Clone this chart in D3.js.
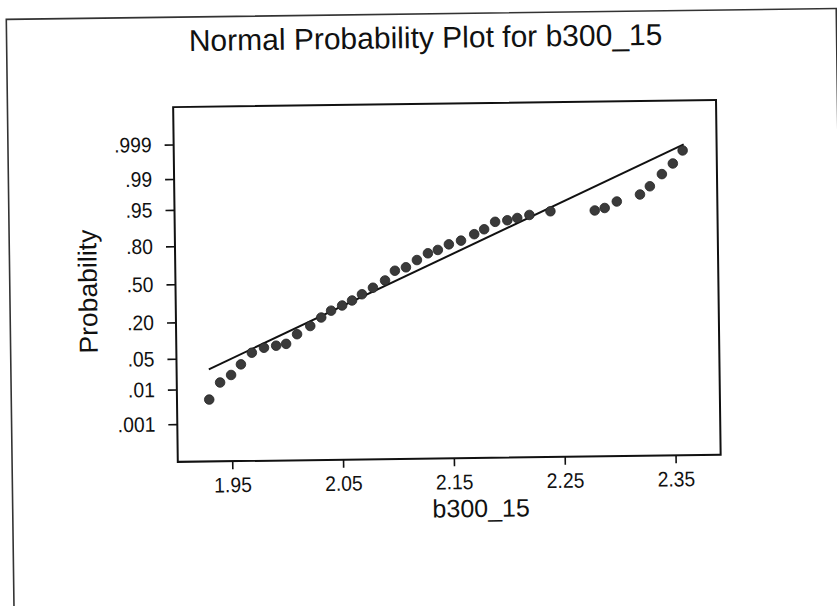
<!DOCTYPE html>
<html>
<head>
<meta charset="utf-8">
<script src="https://cdn.jsdelivr.net/npm/d3@7"></script>
<style>
  body { margin: 0; background: #fff; }
  text { font-family: "Liberation Sans", Arial, sans-serif; fill: #111; }
</style>
</head>
<body>
<div id="chart"></div>
<script>
// values
const b300 = [1.930, 1.940, 1.950, 1.959, 1.969, 1.980, 1.991, 2.000, 2.010, 2.022,
  2.032, 2.041, 2.051, 2.060, 2.069, 2.079, 2.090, 2.099, 2.109, 2.119,
  2.129, 2.138, 2.148, 2.159, 2.171, 2.180, 2.190, 2.201, 2.210, 2.221,
  2.240, 2.280, 2.289, 2.300, 2.321, 2.330, 2.341, 2.351, 2.360];
// normal scores (the probability axis is linear in these)
const normScore = [-2.557, -2.183, -2.020, -1.788, -1.534, -1.428, -1.386, -1.348, -1.138, -0.961,
  -0.776, -0.628, -0.517, -0.409, -0.274, -0.133, 0.024, 0.236, 0.309, 0.466,
  0.612, 0.683, 0.804, 0.882, 1.021, 1.127, 1.288, 1.319, 1.366, 1.430,
  1.505, 1.510, 1.562, 1.702, 1.850, 2.029, 2.294, 2.526, 2.811];
const fitX = [1.930, 2.361];
const fitScore = [-1.889, 2.944];

const xTicks = [1.95, 2.05, 2.15, 2.25, 2.35];
const probTicks = [0.001, 0.01, 0.05, 0.20, 0.50, 0.80, 0.95, 0.99, 0.999];
const probLabels = [".001", ".01", ".05", ".20", ".50", ".80", ".95", ".99", ".999"];

const width = 837;
const height = 606;
const margin = { top: 103.9, left: 175.7, right: 118.4, bottom: 147.3 };
const w = width - margin.left - margin.right;
const h = height - margin.top - margin.bottom;

// inverse normal cdf (Acklam)
function qnorm(p) {
  const a = [-39.69683028665376, 220.9460984245205, -275.9285104469687, 138.3577518672690, -30.66479806614716, 2.506628277459239];
  const b = [-54.47609879822406, 161.5858368580409, -155.6989798598866, 66.80131188771972, -13.28068155288572];
  const c = [-0.007784894002430293, -0.3223964580411365, -2.400758277161838, -2.549732539343734, 4.374664141464968, 2.938163982698783];
  const d = [0.007784695709041462, 0.3224671290700398, 2.445134137142996, 3.754408661907416];
  const pl = 0.02425;
  let q, r;
  if (p < pl) {
    q = Math.sqrt(-2 * Math.log(p));
    return (((((c[0]*q+c[1])*q+c[2])*q+c[3])*q+c[4])*q+c[5]) / ((((d[0]*q+d[1])*q+d[2])*q+d[3])*q+1);
  }
  if (p > 1 - pl) {
    q = Math.sqrt(-2 * Math.log(1 - p));
    return -(((((c[0]*q+c[1])*q+c[2])*q+c[3])*q+c[4])*q+c[5]) / ((((d[0]*q+d[1])*q+d[2])*q+d[3])*q+1);
  }
  q = p - 0.5;
  r = q * q;
  return (((((a[0]*r+a[1])*r+a[2])*r+a[3])*r+a[4])*r+a[5])*q / (((((b[0]*r+b[1])*r+b[2])*r+b[3])*r+b[4])*r+1);
}

const svg = d3.select("#chart").append("svg")
  .attr("width", width)
  .attr("height", height);

// the scanned page is a little tilted
const page = svg.append("g").attr("transform", "rotate(-0.75, 420, 300)");

page.append("rect")
  .attr("x", 10).attr("y", 14)
  .attr("width", 830).attr("height", 610)
  .attr("fill", "none").attr("stroke", "#333").attr("stroke-width", 1.6);

page.append("text")
  .attr("x", 429).attr("y", 48)
  .attr("text-anchor", "middle")
  .attr("font-size", 30)
  .text("Normal Probability Plot for b300_15");

const g = page.append("g").attr("transform", `translate(${margin.left}, ${margin.top})`);

const x = d3.scaleLinear().domain([1.9009, 2.3907]).range([0, w]);
const y = d3.scaleLinear().domain([-3.925, 3.916]).range([h, 0]);

const xAxis = d3.axisBottom(x).tickValues(xTicks).tickFormat(d3.format(".2f")).tickSize(8);
const yAxis = d3.axisLeft(y).tickValues(probTicks.map(qnorm))
  .tickFormat((d, i) => probLabels[i]).tickSize(9).tickPadding(13);

const xAxisGroup = g.append("g").attr("transform", `translate(0, ${h})`).call(xAxis);
const yAxisGroup = g.append("g").call(yAxis);

[xAxisGroup, yAxisGroup].forEach((ax) => {
  ax.select(".domain").remove();
  ax.selectAll("line").attr("stroke", "#111").attr("stroke-width", 1.6);
  ax.selectAll("text").attr("font-size", 21).attr("fill", "#111")
    .style("font-family", '"Liberation Sans", Arial, sans-serif');
});
xAxisGroup.selectAll("text").attr("y", 31).attr("dy", null);

g.append("rect")
  .attr("width", w).attr("height", h)
  .attr("fill", "none").attr("stroke", "#111").attr("stroke-width", 2);

// fitted line
g.append("line")
  .attr("x1", x(fitX[0])).attr("y1", y(fitScore[0]))
  .attr("x2", x(fitX[1])).attr("y2", y(fitScore[1]))
  .attr("stroke", "#111").attr("stroke-width", 2);

g.selectAll("circle.pt")
  .data(b300)
  .enter()
  .append("circle")
  .attr("class", "pt")
  .attr("cx", (d) => x(d))
  .attr("cy", (d, i) => y(normScore[i]))
  .attr("r", 4.8)
  .attr("fill", "#3a3a3a")
  .attr("stroke", "#222")
  .attr("stroke-width", 0.8);

// axis titles
g.append("text")
  .attr("x", 478.4 - margin.left).attr("y", h + 59)
  .attr("text-anchor", "middle")
  .attr("font-size", 25)
  .text("b300_15");

g.append("text")
  .attr("transform", `translate(${97 - margin.left}, ${h / 2 + 6}) rotate(-90)`)
  .attr("text-anchor", "middle")
  .attr("font-size", 26)
  .attr("textLength", 124)
  .attr("lengthAdjust", "spacingAndGlyphs")
  .text("Probability");

// the scan's type is a bit narrower than Liberation Sans
xAxisGroup.selectAll("text").each(function () {
  this.setAttribute("textLength", this.getComputedTextLength() * 0.92);
  this.setAttribute("lengthAdjust", "spacingAndGlyphs");
});
yAxisGroup.selectAll("text").each(function () {
  this.setAttribute("textLength", this.getComputedTextLength() * 0.92);
  this.setAttribute("lengthAdjust", "spacingAndGlyphs");
});
</script>
</body>
</html>
